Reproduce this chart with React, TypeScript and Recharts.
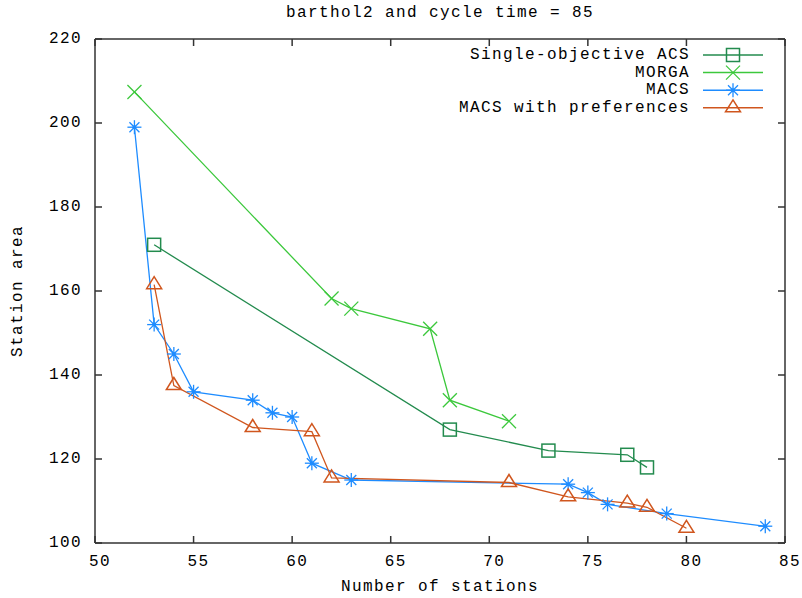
import React from 'react';
import { LineChart, Line, XAxis, YAxis, Legend } from 'recharts';

const FONT = '"Liberation Mono", "DejaVu Sans Mono", monospace';

const titleText = 'barthol2 and cycle time = 85';
const xLabelText = 'Number of stations';
const yLabelText = 'Station area';

const xTicks = [50, 55, 60, 65, 70, 75, 80, 85];
const yTicks = [100, 120, 140, 160, 180, 200, 220];

const acsStations = [53, 68, 73, 77, 78];
const acsArea = [171, 127, 122, 121, 118];

const morgaStations = [52, 62, 63, 67, 68, 71];
const morgaArea = [207.4, 158.2, 155.8, 151, 134, 129];

const macsStations = [52, 53, 54, 55, 58, 59, 60, 61, 63, 74, 75, 76, 79, 84];
const macsArea = [199, 152, 145, 136, 134, 131, 130, 119, 115, 114, 112, 109.2, 107, 104];

const prefStations = [53, 54, 58, 61, 62, 71, 74, 77, 78, 80];
const prefArea = [161.5, 137.5, 127.5, 126.5, 115.5, 114.4, 111, 109.5, 108.5, 103.5];

const toPoints = (xs: number[], ys: number[]) => xs.map((x, i) => ({ x, y: ys[i] }));

type MarkerType = 'square' | 'cross' | 'star' | 'triangle';

const series: { name: string; color: string; marker: MarkerType; data: { x: number; y: number }[] }[] = [
  { name: 'Single-objective ACS', color: '#238b4e', marker: 'square', data: toPoints(acsStations, acsArea) },
  { name: 'MORGA', color: '#3cc83c', marker: 'cross', data: toPoints(morgaStations, morgaArea) },
  { name: 'MACS', color: '#1e8cff', marker: 'star', data: toPoints(macsStations, macsArea) },
  { name: 'MACS with preferences', color: '#d0561e', marker: 'triangle', data: toPoints(prefStations, prefArea) },
];

function Marker({ type, cx, cy, color }: { type: MarkerType; cx: number; cy: number; color: string }) {
  if (type === 'square') {
    return <rect x={cx - 6.5} y={cy - 6.5} width={13} height={13} fill="none" stroke={color} strokeWidth={1.5} />;
  }
  if (type === 'cross') {
    const s = 7;
    return (
      <g stroke={color} strokeWidth={1.3}>
        <line x1={cx - s} y1={cy - s} x2={cx + s} y2={cy + s} />
        <line x1={cx - s} y1={cy + s} x2={cx + s} y2={cy - s} />
      </g>
    );
  }
  if (type === 'star') {
    const s = 7;
    const d = 5;
    return (
      <g stroke={color} strokeWidth={1.3}>
        <line x1={cx - s} y1={cy} x2={cx + s} y2={cy} />
        <line x1={cx} y1={cy - s} x2={cx} y2={cy + s} />
        <line x1={cx - d} y1={cy - d} x2={cx + d} y2={cy + d} />
        <line x1={cx - d} y1={cy + d} x2={cx + d} y2={cy - d} />
        <circle cx={cx} cy={cy} r={2} fill={color} stroke="none" />
      </g>
    );
  }
  return (
    <polygon
      points={`${cx},${cy - 8} ${cx - 7.5},${cy + 4} ${cx + 7.5},${cy + 4}`}
      fill="none"
      stroke={color}
      strokeWidth={1.5}
    />
  );
}

const tickTextStyle = { fontFamily: FONT, fontSize: 16, letterSpacing: 1.4, fill: '#000' } as const;
const TICK_LEN = 7;
const AXIS_COLOR = '#333';

const BottomTick = (props: any) => {
  const { x, y, payload } = props;
  return (
    <g>
      <line x1={x} y1={y} x2={x} y2={y - TICK_LEN} stroke={AXIS_COLOR} strokeWidth={1.5} />
      <text x={x + 5} y={y + 19} textAnchor="middle" dominantBaseline="central" style={tickTextStyle}>
        {payload.value}
      </text>
    </g>
  );
};

const TopTick = (props: any) => {
  const { x, y } = props;
  return <line x1={x} y1={y} x2={x} y2={y + TICK_LEN} stroke={AXIS_COLOR} strokeWidth={1.5} />;
};

const LeftTick = (props: any) => {
  const { x, y, payload } = props;
  return (
    <g>
      <line x1={x} y1={y} x2={x + TICK_LEN} y2={y} stroke={AXIS_COLOR} strokeWidth={1.5} />
      <text x={x - 13} y={y} textAnchor="end" dominantBaseline="central" style={tickTextStyle}>
        {payload.value}
      </text>
    </g>
  );
};

const RightTick = (props: any) => {
  const { x, y } = props;
  return <line x1={x} y1={y} x2={x - TICK_LEN} y2={y} stroke={AXIS_COLOR} strokeWidth={1.5} />;
};

const LegendContent = () => (
  <svg width={340} height={75} style={{ display: 'block' }}>
    {series.map((s, i) => {
      const cy = 9 + i * 17.6;
      return (
        <g key={s.name}>
          <text x={252} y={cy} textAnchor="end" dominantBaseline="central" style={tickTextStyle}>
            {s.name}
          </text>
          <line x1={265} y1={cy} x2={325} y2={cy} stroke={s.color} strokeWidth={1.5} />
          <Marker type={s.marker} cx={295} cy={cy} color={s.color} />
        </g>
      );
    })}
  </svg>
);

export default function App() {
  return (
    <div style={{ position: 'absolute', left: 0, top: 0, width: 802, height: 598, background: '#fff' }}>
      <LineChart
        width={802}
        height={598}
        margin={{ top: 19, right: 7, bottom: 15, left: 0 }}
      >
        <XAxis
          xAxisId="bottom"
          dataKey="x"
          type="number"
          domain={[50, 85]}
          ticks={xTicks}
          interval={0}
          orientation="bottom"
          height={40}
          tickSize={0}
          tickMargin={0}
          tickLine={false}
          axisLine={{ stroke: AXIS_COLOR, strokeWidth: 1.5 }}
          tick={<BottomTick />}
          allowDataOverflow
        />
        <XAxis
          xAxisId="top"
          dataKey="x"
          type="number"
          domain={[50, 85]}
          ticks={xTicks}
          interval={0}
          orientation="top"
          height={20}
          tickSize={0}
          tickMargin={0}
          tickLine={false}
          axisLine={{ stroke: AXIS_COLOR, strokeWidth: 1.5 }}
          tick={<TopTick />}
          allowDataOverflow
        />
        <YAxis
          yAxisId="left"
          type="number"
          domain={[100, 220]}
          ticks={yTicks}
          interval={0}
          orientation="left"
          width={95}
          tickSize={0}
          tickMargin={0}
          tickLine={false}
          axisLine={{ stroke: AXIS_COLOR, strokeWidth: 1.5 }}
          tick={<LeftTick />}
          allowDataOverflow
        />
        <YAxis
          yAxisId="right"
          type="number"
          domain={[100, 220]}
          ticks={yTicks}
          interval={0}
          orientation="right"
          width={10}
          tickSize={0}
          tickMargin={0}
          tickLine={false}
          axisLine={{ stroke: AXIS_COLOR, strokeWidth: 1.5 }}
          tick={<RightTick />}
          allowDataOverflow
        />
        <Legend
          layout="vertical"
          align="center"
          verticalAlign="middle"
          content={<LegendContent />}
          wrapperStyle={{ position: 'absolute', left: 438, top: 46, width: 340, height: 75 }}
        />
        {series.map((s) => (
          <Line
            key={s.name}
            name={s.name}
            data={s.data}
            dataKey="y"
            xAxisId="bottom"
            yAxisId="left"
            type="linear"
            stroke={s.color}
            strokeWidth={1.3}
            isAnimationActive={false}
            dot={(p: any) => <Marker key={`${s.name}-${p.index}`} type={s.marker} cx={p.cx} cy={p.cy} color={s.color} />}
            activeDot={false}
          />
        ))}
      </LineChart>
      <svg
        width={802}
        height={598}
        style={{ position: 'absolute', left: 0, top: 0, pointerEvents: 'none' }}
      >
        <text x={440} y={13} textAnchor="middle" dominantBaseline="central" style={tickTextStyle}>
          {titleText}
        </text>
        <text x={440} y={587} textAnchor="middle" dominantBaseline="central" style={tickTextStyle}>
          {xLabelText}
        </text>
        <text
          x={18}
          y={291}
          textAnchor="middle"
          dominantBaseline="central"
          transform="rotate(-90 18 291)"
          style={tickTextStyle}
        >
          {yLabelText}
        </text>
      </svg>
    </div>
  );
}
